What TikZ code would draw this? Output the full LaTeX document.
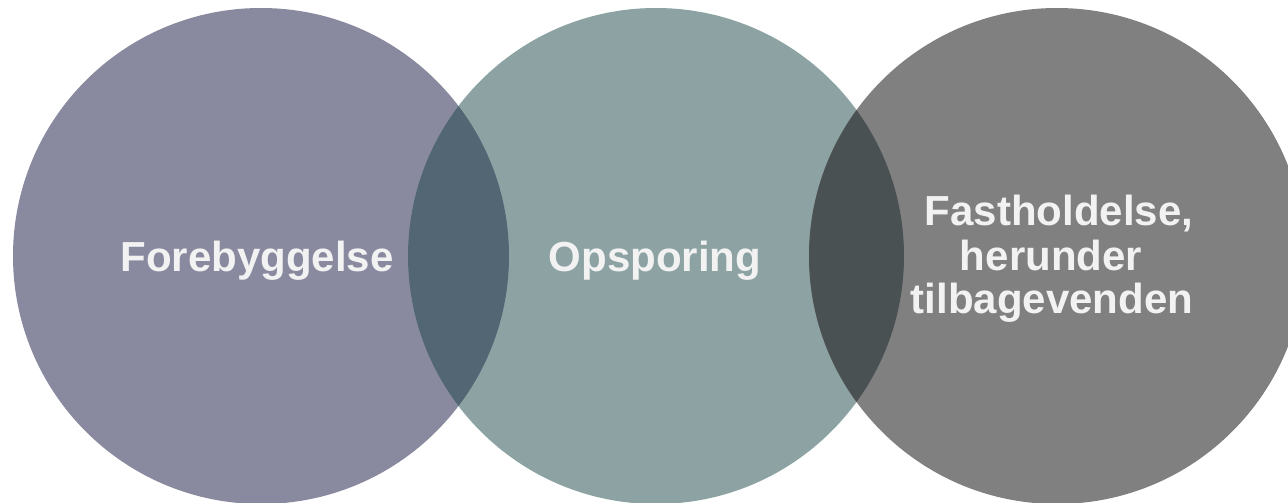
\documentclass[tikz,border=0pt]{standalone}
\usepackage{fontspec}
\setmainfont{Liberation Sans}
\definecolor{cprevent}{HTML}{898AA0}
\definecolor{cdetect}{HTML}{8DA2A3}
\definecolor{cretain}{HTML}{808080}
\definecolor{lensA}{HTML}{536673}
\definecolor{lensB}{HTML}{4A5152}
\definecolor{labeltext}{HTML}{F2F2F2}
\begin{document}
\begin{tikzpicture}[x=1pt,y=1pt,
  label/.style={text=labeltext,font=\fontsize{42}{44}\selectfont\bfseries,inner sep=0pt,anchor=base},
  multi/.style={label,align=center}]
\useasboundingbox (0,0) rectangle (1288,-503);
\def\rad{248}
% the three circles
\fill[cprevent] (261,-256) circle (\rad);
\fill[cdetect]  (656,-256) circle (\rad);
\fill[cretain]  (1057,-256) circle (\rad);
% overlaps
\begin{scope}
  \clip (261,-256) circle (\rad);
  \fill[lensA] (656,-256) circle (\rad);
\end{scope}
\begin{scope}
  \clip (656,-256) circle (\rad);
  \fill[lensB] (1057,-256) circle (\rad);
\end{scope}
% labels
\node[label] (forebyg) at (257,-271) {Forebyggelse};
\node[label] (opspor) at (655,-271) {Opsporing};
\node[label] (fasth1) at (1059,-225) {Fastholdelse,};
\node[label] (fasth2) at (1051,-270) {herunder};
\node[label] (fasth3) at (1052,-313) {tilbagevenden};
\end{tikzpicture}
\end{document}
